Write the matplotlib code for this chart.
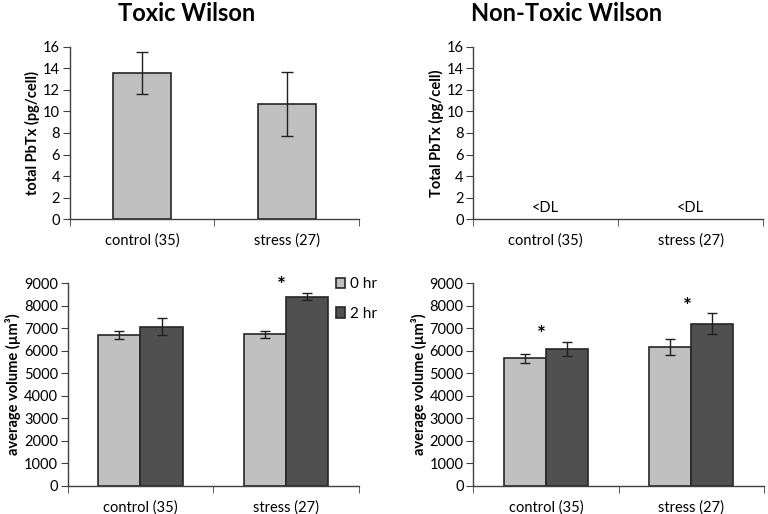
import matplotlib
matplotlib.use("Agg")
import matplotlib.pyplot as plt
import numpy as np

plt.rcParams['font.family'] = ['Lato', 'DejaVu Sans']

categories = ["control (35)", "stress (27)"]
# Top panels: total PbTx (pg/cell)
toxic_pbtx = [13.6, 10.7]
toxic_pbtx_err = [1.93, 2.95]
nontoxic_label = "<DL"

# Bottom panels: average volume
series_names = ["0 hr", "2 hr"]
toxic_vol_0 = [6700, 6730]
toxic_vol_0_err = [170, 160]
toxic_vol_2 = [7070, 8410]
toxic_vol_2_err = [380, 150]
nontoxic_vol_0 = [5670, 6160]
nontoxic_vol_0_err = [205, 360]
nontoxic_vol_2 = [6090, 7200]
nontoxic_vol_2_err = [300, 460]
toxic_sig = [False, True]
nontoxic_sig = [True, True]

light = "#c0c0c0"
dark = "#505050"
edge = "#262626"

fig = plt.figure(figsize=(7.68, 5.14), dpi=100)

def style(ax, ymax, step):
    ax.spines['top'].set_visible(False)
    ax.spines['right'].set_visible(False)
    for s in ['left', 'bottom']:
        ax.spines[s].set_color('#404040')
        ax.spines[s].set_linewidth(1.0)
    ax.set_xlim(-0.5, 1.5)
    ax.set_ylim(0, ymax)
    ax.set_yticks(np.arange(0, ymax + 1e-9, step))
    ax.set_xticks([0, 1])
    ax.set_xticklabels(categories)
    ax.set_xticks([-0.5, 0.5, 1.5], minor=True)
    ax.tick_params(axis='x', which='major', length=0, pad=10, labelsize=10.5)
    ax.tick_params(axis='x', which='minor', length=5, direction='out', color='#404040')
    ax.tick_params(axis='y', length=5, direction='out', color='#404040', labelsize=10.5, pad=2)

x = np.arange(len(categories))

# Top-left
ax1 = fig.add_axes([0.0911, 0.5739, 0.3763, 0.3347])
ax1.bar(x, toxic_pbtx, width=0.4, color=light, edgecolor=edge, linewidth=1.2,
        yerr=toxic_pbtx_err, error_kw=dict(ecolor='#202020', elinewidth=1, capsize=4, capthick=1))
style(ax1, 16, 2)
ax1.set_ylabel("total PbTx (pg/cell)", fontweight='bold', fontsize=10.5, labelpad=2)
fig.text(0.243, 0.974, "Toxic Wilson", ha='center', va='center', fontsize=17, fontweight='bold')

# Top-right
ax2 = fig.add_axes([0.6163, 0.5739, 0.3772, 0.3347])
style(ax2, 16, 2)
for xi in x:
    ax2.text(xi, 0.35, nontoxic_label, ha='center', va='bottom', fontsize=10.5)
ax2.set_ylabel("Total PbTx (pg/cell)", fontweight='bold', fontsize=10.5, labelpad=2)
fig.text(0.738, 0.974, "Non-Toxic Wilson", ha='center', va='center', fontsize=17, fontweight='bold')

def vol_panel(rect, v0, e0, v2, e2, sig, legend):
    ax = fig.add_axes(rect)
    w = 0.29
    ek = dict(ecolor='#202020', elinewidth=1, capsize=3.5, capthick=1)
    ax.bar(x - w / 2, v0, width=w, color=light, edgecolor=edge, linewidth=1.2,
           yerr=e0, error_kw=ek, label=series_names[0])
    ax.bar(x + w / 2, v2, width=w, color=dark, edgecolor=edge, linewidth=1.2,
           yerr=e2, error_kw=ek, label=series_names[1])
    style(ax, 9000, 1000)
    ax.set_ylabel("average volume (µm³)", fontweight='bold', fontsize=10.5, labelpad=2)
    for xi, s, a, b, ea, eb in zip(x, sig, v0, v2, e0, e2):
        if s:
            top = max(a + ea, b + eb)
            ax.text(xi - 0.03, top + 300, "*", ha='center', va='center', fontsize=15, fontweight='bold')
    if legend:
        ax.legend(loc='upper left', bbox_to_anchor=(0.9, 1.06), frameon=False,
                  fontsize=11, handlelength=0.6, handleheight=0.7, handletextpad=0.3,
                  labelspacing=1.0, borderaxespad=0)
    return ax

vol_panel([0.0881, 0.0545, 0.3793, 0.3943], toxic_vol_0, toxic_vol_0_err,
          toxic_vol_2, toxic_vol_2_err, toxic_sig, True)
vol_panel([0.6163, 0.0545, 0.3785, 0.3943], nontoxic_vol_0, nontoxic_vol_0_err,
          nontoxic_vol_2, nontoxic_vol_2_err, nontoxic_sig, False)

fig.savefig("out.png", dpi=100)
